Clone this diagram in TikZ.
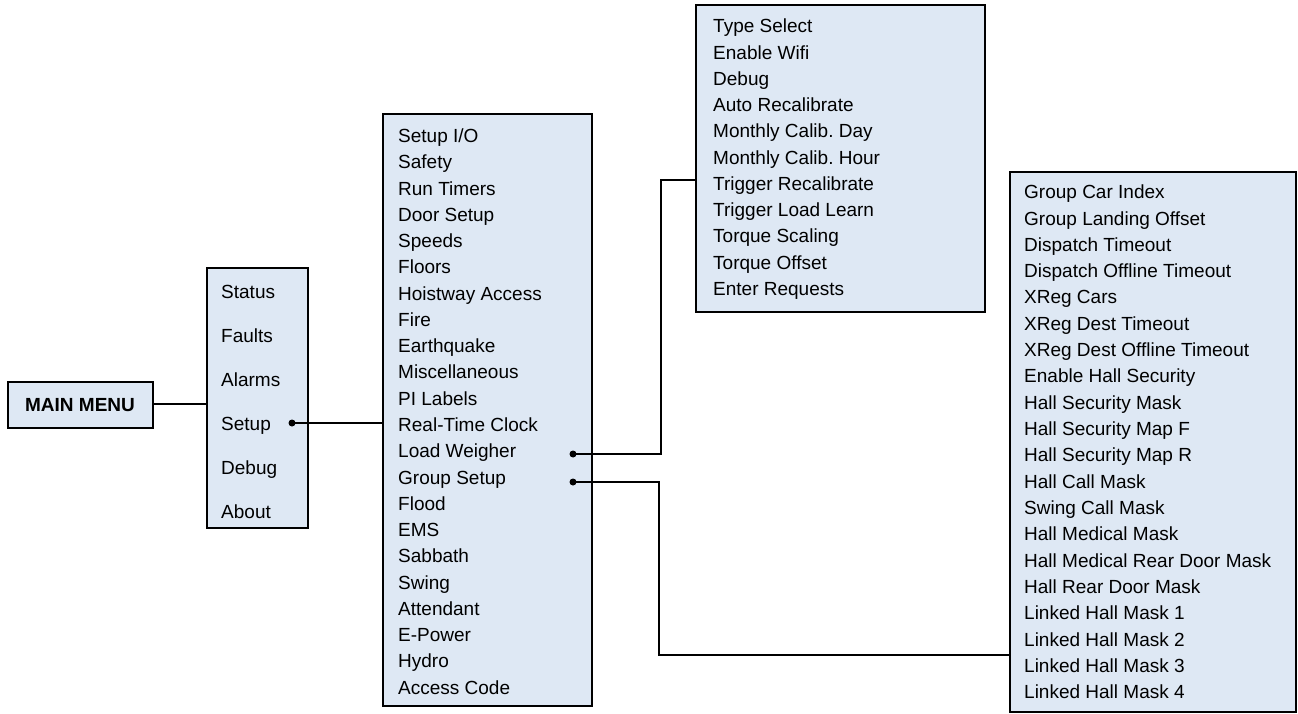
\documentclass[tikz,border=0pt]{standalone}
\usepackage{fontspec}
\setmainfont{Liberation Sans}
\definecolor{boxfill}{HTML}{DEE8F4}
\frenchspacing
\begin{document}
\begin{tikzpicture}[x=1pt,y=-1pt,
  menubox/.style={draw=black, line width=2.2pt, fill=boxfill, inner sep=0pt},
  item/.style={anchor=base west, inner sep=0pt, font=\fontsize{19}{23}\selectfont},
  conn/.style={draw=black, line width=2.2pt},
  dotmark/.style={circle, fill=black, inner sep=0pt, minimum size=7pt}]
\useasboundingbox (0,0) rectangle (1298,714);

% boxes
\draw[menubox] (8,382) rectangle (153,428);
\node[font=\fontsize{19}{23}\selectfont\bfseries] (mm) at (80,405) {MAIN MENU};
\coordinate (mmR) at (153,404);

\draw[menubox] (207,268) rectangle (308,528);
\coordinate (b2L) at (207,404);
\draw[menubox] (383,114) rectangle (592,706);
\coordinate (b3L) at (383,423);
\draw[menubox] (696,5) rectangle (985,312);
\coordinate (b4L) at (696,180);
\draw[menubox] (1010,172) rectangle (1296,712);
\coordinate (b5L) at (1010,655);

% level 1 items
\foreach \t [count=\i from 0] in {Status,Faults,Alarms,Setup,Debug,About}
  \node[item] (m1-\i) at (221,{291+44*\i+7}) {\t};

% level 2 items
\foreach \t [count=\i from 0] in {Setup I/O,Safety,Run Timers,Door Setup,Speeds,Floors,Hoistway Access,Fire,Earthquake,Miscellaneous,PI Labels,Real-Time Clock,Load Weigher,Group Setup,Flood,EMS,Sabbath,Swing,Attendant,E-Power,Hydro,Access Code}
  \node[item] (m2-\i) at (398,{135.5+26.27*\i+7}) {\t};

% load weigher items
\foreach \t [count=\i from 0] in {Type Select,Enable Wifi,Debug,Auto Recalibrate,Monthly Calib. Day,Monthly Calib. Hour,Trigger Recalibrate,Trigger Load Learn,Torque Scaling,Torque Offset,Enter Requests}
  \node[item] (m3-\i) at (713,{26+26.23*\i+7}) {\t};

% group setup items
\foreach \t [count=\i from 0] in {Group Car Index,Group Landing Offset,Dispatch Timeout,Dispatch Offline Timeout,XReg Cars,XReg Dest Timeout,XReg Dest Offline Timeout,Enable Hall Security,Hall Security Mask,Hall Security Map F,Hall Security Map R,Hall Call Mask,Swing Call Mask,Hall Medical Mask,Hall Medical Rear Door Mask,Hall Rear Door Mask,Linked Hall Mask 1,Linked Hall Mask 2,Linked Hall Mask 3,Linked Hall Mask 4}
  \node[item] (m4-\i) at (1024,{191.7+26.32*\i+7}) {\t};

% dots
\node[dotmark] (dSetup) at (292,423) {};
\node[dotmark] (dLoad) at (573,454) {};
\node[dotmark] (dGroup) at (573,482) {};

% connectors
\draw[conn] (mmR) -- (b2L);
\draw[conn] (dSetup.center) -- (b3L);
\draw[conn] (dLoad.center) -- (661,454) -- (661,180) -- (b4L);
\draw[conn] (dGroup.center) -- (659,482) -- (659,655) -- (b5L);
\end{tikzpicture}
\end{document}
